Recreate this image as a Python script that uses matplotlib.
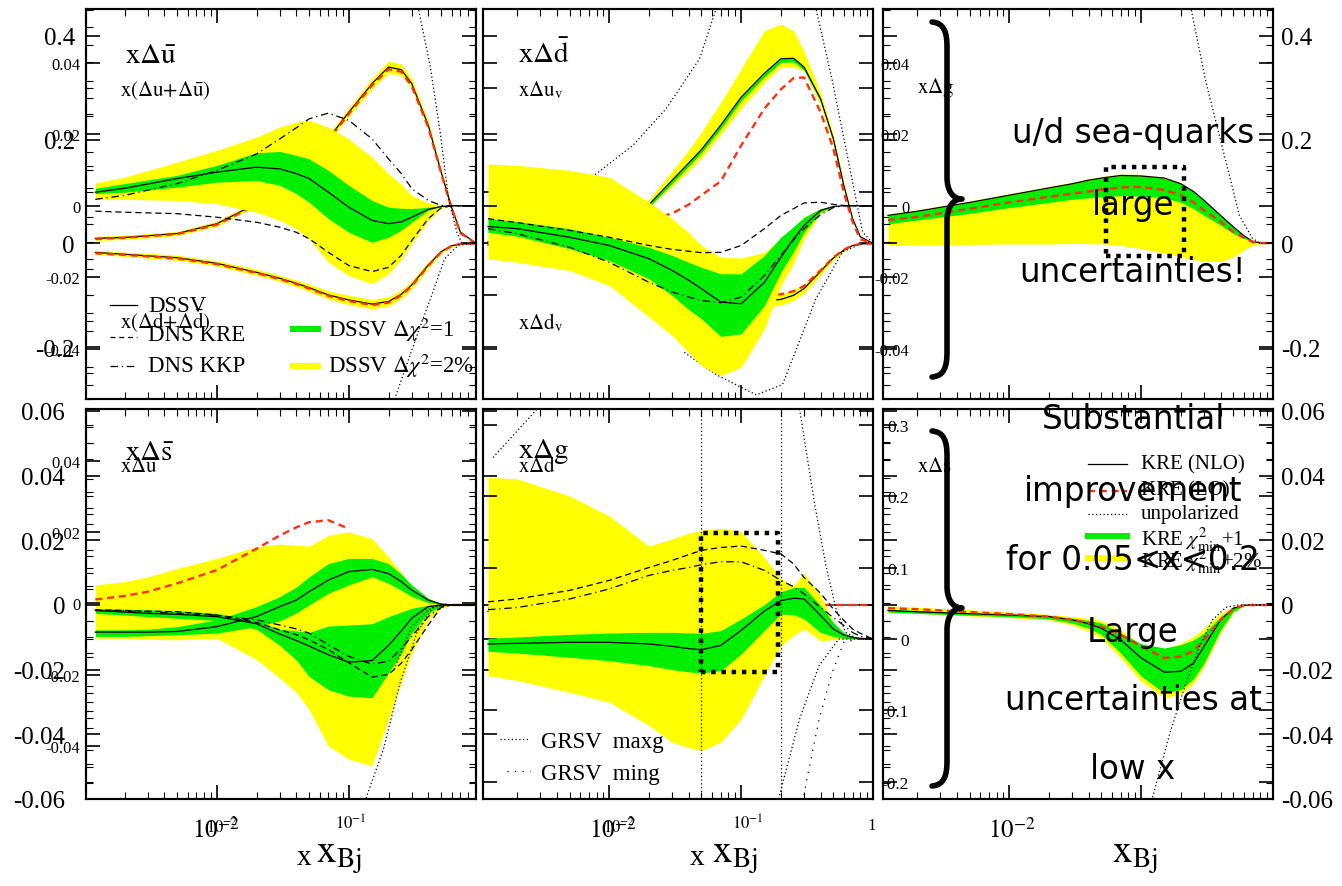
import matplotlib
matplotlib.use('Agg')
import matplotlib.pyplot as plt
import matplotlib.ticker as ticker
from matplotlib.lines import Line2D
from matplotlib.patches import PathPatch
from matplotlib.path import Path
import numpy as np

plt.rcParams['font.family'] = 'Liberation Serif'
plt.rcParams['mathtext.fontset'] = 'stix'
plt.rcParams['axes.unicode_minus'] = False

W, H = 1342, 887
YEL = '#ffff00'
GRN = '#00ee00'
RED = '#ff3010'
nan = float('nan')

# ---------------- top-left (x dU-bar, DSSV; x(Du+Du-bar), x(Dd+Dd-bar), KRE) -------------
x_tl = [0.0012, 0.002, 0.005, 0.01, 0.02, 0.03, 0.04, 0.05, 0.07, 0.1, 0.15, 0.2, 0.25, 0.3, 0.4, 0.5, 0.6, 0.7, 0.92]
ubar_sol = [0.0038, 0.0049, 0.0076, 0.0094, 0.0108, 0.0103, 0.009, 0.0076, 0.0038, -0.0004, -0.0041, -0.005, -0.0045, -0.0032, -0.001, -0.0002, 0.0, 0.0, 0.0]
ubar_y_hi = [0.0064, 0.008, 0.0122, 0.0155, 0.0192, 0.022, 0.0234, 0.0239, 0.022, 0.0187, 0.0136, 0.009, 0.006, 0.0029, 0.0008, 0.0001, 0.0, 0.0, 0.0]
ubar_y_lo = [0.0018, 0.0018, 0.0015, 0.0006, -0.0018, -0.0041, -0.0064, -0.0092, -0.0158, -0.0195, -0.0218, -0.019, -0.015, -0.0106, -0.0041, -0.0008, 0.0, 0.0, 0.0]
ubar_g_hi = [0.0049, 0.0062, 0.0085, 0.0113, 0.0148, 0.0152, 0.0141, 0.0131, 0.0099, 0.0057, 0.0015, -0.0004, -0.0007, -0.0008, -0.0004, -0.0001, 0.0, 0.0, 0.0]
ubar_g_lo = [0.0034, 0.0038, 0.0052, 0.0066, 0.0071, 0.0057, 0.0034, 0.001, -0.0036, -0.0074, -0.0102, -0.0088, -0.0068, -0.0046, -0.0013, -0.0002, 0.0, 0.0, 0.0]
ubar_kre = [-0.0015, -0.0018, -0.0022, -0.0032, -0.0046, -0.006, -0.0074, -0.0092, -0.013, -0.0167, -0.0184, -0.0172, -0.0138, -0.0097, -0.0036, -0.0006, 0.0, 0.0, 0.0]
ubar_kkp = [0.0018, 0.0029, 0.0062, 0.0099, 0.0145, 0.0187, 0.0218, 0.0243, 0.0259, 0.0239, 0.0187, 0.0131, 0.009, 0.0048, 0.0015, 0.0001, 0.0, 0.0, 0.0]
upl_nlo = [0.0096, 0.0115, 0.019, 0.038, 0.077, 0.106, 0.131, 0.157, 0.202, 0.253, 0.308, 0.34, 0.335, 0.308, 0.228, 0.138, 0.07, 0.022, 0.0]
upl_lo = [0.0085, 0.011, 0.018, 0.036, 0.075, 0.104, 0.129, 0.155, 0.2, 0.25, 0.305, 0.336, 0.331, 0.303, 0.224, 0.136, 0.068, 0.02, 0.0]
upl_hw = [0.004, 0.004, 0.004, 0.005, 0.005, 0.006, 0.006, 0.006, 0.007, 0.008, 0.01, 0.012, 0.011, 0.01, 0.008, 0.006, 0.004, 0.002, 0.0]
dpl_nlo = [-0.0173, -0.021, -0.0276, -0.0385, -0.0558, -0.0673, -0.077, -0.0853, -0.0994, -0.109, -0.117, -0.112, -0.098, -0.08, -0.0417, -0.016, -0.0045, -0.001, 0.0]
dpl_lo = [-0.019, -0.022, -0.029, -0.04, -0.057, -0.069, -0.078, -0.087, -0.101, -0.111, -0.119, -0.114, -0.1, -0.082, -0.043, -0.017, -0.005, -0.001, 0.0]
dpl_hw = [0.004, 0.004, 0.005, 0.005, 0.006, 0.006, 0.0065, 0.007, 0.008, 0.009, 0.009, 0.009, 0.0085, 0.008, 0.006, 0.004, 0.002, 0.001, 0.0]
u_unpol_x = [0.3, 0.337, 0.413, 0.492, 0.569, 0.658, 0.72, 0.92]
u_unpol_y = [0.6, 0.452, 0.343, 0.215, 0.087, 0.022, 0.0, 0.0]
d_unpol_x = [0.2, 0.224, 0.344, 0.435, 0.533, 0.68, 0.92]
d_unpol_y = [-0.35, -0.298, -0.163, -0.093, -0.029, -0.003, 0.0]

# ---------------- top-middle (x dD-bar DSSV; x du_v, x dd_v KRE) ----------------
x_tm = [0.0012, 0.002, 0.005, 0.01, 0.02, 0.03, 0.04, 0.05, 0.07, 0.1, 0.15, 0.2, 0.25, 0.3, 0.4, 0.5, 0.6, 0.7, 0.8, 1.0]
dbar_sol = [-0.0058, -0.0064, -0.0088, -0.0111, -0.0148, -0.0181, -0.0208, -0.0232, -0.0269, -0.0274, -0.0214, -0.0144, -0.0092, -0.0055, -0.0013, -0.0002, 0.0, 0.0, 0.0, 0.0]
dbar_g_hi = [-0.0036, -0.0044, -0.0064, -0.0088, -0.0116, -0.0139, -0.0158, -0.0172, -0.019, -0.019, -0.0139, -0.0088, -0.0058, -0.0032, -0.0008, -0.0001, 0.0, 0.0, 0.0, 0.0]
dbar_g_lo = [-0.0074, -0.0085, -0.012, -0.0153, -0.0204, -0.0251, -0.029, -0.0316, -0.0365, -0.0358, -0.0279, -0.0186, -0.0128, -0.0074, -0.0018, -0.0001, 0.0, 0.0, 0.0, 0.0]
dbar_y_hi = [0.0117, 0.0113, 0.0099, 0.008, 0.001, -0.0036, -0.0075, -0.0111, -0.0144, -0.0146, -0.013, -0.0092, -0.006, -0.0032, -0.0008, -0.0001, 0.0, 0.0, 0.0, 0.0]
dbar_y_lo = [-0.0148, -0.0158, -0.0181, -0.0223, -0.0311, -0.0363, -0.041, -0.0447, -0.0475, -0.0451, -0.0344, -0.0223, -0.016, -0.0092, -0.0022, -0.0001, 0.0, 0.0, 0.0, 0.0]
dbar_kre = [-0.0036, -0.0047, -0.0069, -0.0088, -0.0111, -0.0122, -0.0127, -0.0131, -0.013, -0.0111, -0.0064, -0.0027, -0.0008, 0.0008, 0.001, 0.0004, 0.0001, 0.0, 0.0, 0.0]
dbar_kkp = [-0.0064, -0.0078, -0.0116, -0.0158, -0.0214, -0.0241, -0.0255, -0.0265, -0.0271, -0.0255, -0.0195, -0.0139, -0.0095, -0.0064, -0.0025, -0.0005, 0.0, 0.0, 0.0, 0.0]
uv_nlo = [0.003, 0.008, 0.025, 0.045, 0.075, 0.122, 0.155, 0.181, 0.228, 0.282, 0.328, 0.356, 0.357, 0.34, 0.279, 0.202, 0.112, 0.048, 0.013, 0.0]
uv_lo = [0.002, 0.006, 0.017, 0.03, 0.045, 0.058, 0.075, 0.093, 0.12, 0.189, 0.26, 0.297, 0.319, 0.32, 0.253, 0.183, 0.099, 0.042, 0.008, 0.0]
uv_y_hi = [0.005, 0.011, 0.03, 0.052, 0.085, 0.14, 0.18, 0.215, 0.272, 0.337, 0.41, 0.423, 0.41, 0.37, 0.29, 0.21, 0.12, 0.05, 0.014, 0.0]
uv_y_lo = [0.002, 0.006, 0.02, 0.04, 0.07, 0.11, 0.14, 0.165, 0.21, 0.26, 0.31, 0.34, 0.34, 0.333, 0.266, 0.19, 0.106, 0.045, 0.012, 0.0]
uv_g_lo = [0.002, 0.006, 0.022, 0.041, 0.07, 0.116, 0.149, 0.175, 0.221, 0.275, 0.321, 0.349, 0.35, 0.334, 0.274, 0.198, 0.109, 0.046, 0.012, 0.0]
dv_nlo = [-0.003, -0.006, -0.016, -0.035, -0.06, -0.075, -0.085, -0.093, -0.102, -0.108, -0.111, -0.108, -0.1, -0.087, -0.054, -0.028, -0.013, -0.004, -0.001, 0.0]
dv_lo = [-0.002, -0.005, -0.014, -0.03, -0.053, -0.067, -0.077, -0.085, -0.093, -0.098, -0.1, -0.098, -0.092, -0.082, -0.052, -0.027, -0.012, -0.004, -0.001, 0.0]
dv_y_hi = [-0.001, -0.003, -0.012, -0.029, -0.052, -0.066, -0.075, -0.083, -0.091, -0.096, -0.099, -0.097, -0.089, -0.078, -0.047, -0.024, -0.011, -0.003, -0.001, 0.0]
dv_y_lo = [-0.005, -0.009, -0.02, -0.041, -0.068, -0.084, -0.094, -0.103, -0.113, -0.12, -0.123, -0.119, -0.11, -0.096, -0.061, -0.032, -0.015, -0.005, -0.001, 0.0]
uv_unpol_x1 = [0.005, 0.008, 0.0151, 0.027, 0.0483, 0.0645, 0.08]
uv_unpol_y1 = [0.09, 0.135, 0.189, 0.26, 0.356, 0.452, 0.55]
uv_unpol_x2 = [0.3, 0.37, 0.494, 0.66, 0.834, 1.0]
uv_unpol_y2 = [0.6, 0.452, 0.311, 0.151, 0.022, 0.0]
dv_unpol_x = [0.037, 0.0645, 0.13, 0.206, 0.37, 0.589, 0.834, 1.0]
dv_unpol_y = [-0.21, -0.253, -0.292, -0.272, -0.106, -0.016, 0.0, 0.0]

# ---------------- top-right (x dg, KRE) ----------------
x_tr = x_tm
g_nlo = [0.054, 0.062, 0.079, 0.093, 0.107, 0.115, 0.122, 0.126, 0.131, 0.13, 0.126, 0.115, 0.1, 0.083, 0.054, 0.032, 0.015, 0.004, 0.001, 0.0]
g_lo = [0.045, 0.051, 0.067, 0.079, 0.09, 0.096, 0.1, 0.104, 0.108, 0.109, 0.103, 0.093, 0.079, 0.064, 0.042, 0.022, 0.011, 0.003, 0.001, 0.0]
g_g_lo = [0.038, 0.045, 0.058, 0.069, 0.079, 0.085, 0.088, 0.09, 0.092, 0.091, 0.088, 0.079, 0.067, 0.054, 0.035, 0.019, 0.01, 0.003, 0.001, 0.0]
g_y_hi = [0.057, 0.065, 0.082, 0.096, 0.11, 0.118, 0.125, 0.129, 0.134, 0.133, 0.128, 0.117, 0.101, 0.084, 0.055, 0.033, 0.016, 0.004, 0.001, 0.0]
g_y_lo = [-0.003, -0.003, -0.002, -0.001, -0.001, 0.0, -0.0005, -0.001, -0.004, -0.01, -0.019, -0.026, -0.031, -0.034, -0.035, -0.026, -0.013, -0.004, -0.001, 0.0]
g_unpol_x = [0.2, 0.239, 0.31, 0.415, 0.556, 0.697, 0.8, 1.0]
g_unpol_y = [0.6, 0.452, 0.311, 0.183, 0.054, 0.01, 0.0, 0.0]

# ---------------- bottom-left (x dS-bar DSSV; x du-bar KRE) ----------------
x_bl = [0.0012, 0.002, 0.003, 0.005, 0.01, 0.02, 0.03, 0.04, 0.05, 0.07, 0.1, 0.15, 0.2, 0.25, 0.3, 0.4, 0.5, 0.6, 0.7, 0.92]
sbar_y_hi = [0.0062, 0.0072, 0.0087, 0.0113, 0.0144, 0.018, 0.0188, 0.0185, 0.0182, 0.0215, 0.0226, 0.0205, 0.0149, 0.01, 0.0056, 0.0015, 0.0003, 0.0, 0.0, 0.0]
sbar_y_lo = [-0.0103, -0.0103, -0.0106, -0.0108, -0.0103, -0.0169, -0.0226, -0.027, -0.0323, -0.0436, -0.0477, -0.0497, -0.0354, -0.024, -0.0149, -0.0046, -0.001, 0.0, 0.0, 0.0]
sbar_g_hi = [-0.0077, -0.0077, -0.0075, -0.0067, -0.0046, -0.0005, 0.0026, 0.0055, 0.0087, 0.0128, 0.0144, 0.0144, 0.0128, 0.0095, 0.0062, 0.0021, 0.0003, 0.0, 0.0, 0.0]
sbar_g_lo = [-0.0097, -0.0097, -0.0095, -0.0092, -0.0087, -0.0067, -0.0049, -0.0025, 0.0, 0.0036, 0.0062, 0.0087, 0.0067, 0.0045, 0.0026, 0.0007, 0.0001, 0.0, 0.0, 0.0]
sbar_sol = [-0.0084, -0.0084, -0.0084, -0.0082, -0.0067, -0.0036, -0.0005, 0.0015, 0.0041, 0.0077, 0.0103, 0.011, 0.0097, 0.0072, 0.0046, 0.0015, 0.0003, 0.0, 0.0, 0.0]
sbar_kre = [-0.0015, -0.0017, -0.0019, -0.0021, -0.0031, -0.0054, -0.0077, -0.0092, -0.0108, -0.0138, -0.0179, -0.0223, -0.0215, -0.018, -0.0138, -0.0062, -0.0007, 0.0, 0.0, 0.0]
sbar_kkp = [-0.0017, -0.0019, -0.0021, -0.0026, -0.0032, -0.0046, -0.0062, -0.0074, -0.0087, -0.0123, -0.0159, -0.0183, -0.0174, -0.0135, -0.0097, -0.0036, -0.0007, 0.0, 0.0, 0.0]
ubk_nlo = [-0.0017, -0.0022, -0.0026, -0.0029, -0.0036, -0.0058, -0.009, -0.011, -0.0127, -0.0154, -0.0177, -0.0172, -0.0125, -0.008, -0.0041, -0.0005, 0.0, 0.0, 0.0, 0.0]
ubk_g_hi = [-0.0011, -0.0013, -0.0015, -0.0018, -0.0026, -0.005, -0.0075, -0.008, -0.0085, -0.0065, -0.0062, -0.0058, -0.0036, -0.0022, -0.001, -0.0001, 0.0, 0.0, 0.0, 0.0]
ubk_g_lo = [-0.0026, -0.0031, -0.0036, -0.0041, -0.0048, -0.0075, -0.0125, -0.017, -0.0221, -0.0262, -0.0282, -0.0287, -0.021, -0.015, -0.0087, -0.0026, -0.0003, 0.0, 0.0, 0.0]
ubk_lo = [0.0017, 0.0028, 0.0041, 0.0067, 0.0108, 0.0174, 0.0215, 0.024, 0.0256, 0.0262, 0.0236, nan, nan, nan, nan, nan, 0.0, 0.0, 0.0, 0.0]
ubk_unpol_x = [0.12, 0.137, 0.183, 0.245, 0.327, 0.437, 0.55, 0.92]
ubk_unpol_y = [-0.07, -0.059, -0.0446, -0.024, -0.0087, -0.0005, 0.0, 0.0]
ubk_unpol2_x = [0.22, 0.3, 0.4, 0.5, 0.7]
ubk_unpol2_y = [-0.02, -0.0067, -0.0015, 0.0, 0.0]

# ---------------- bottom-middle (x dg DSSV; x dd-bar KRE) ----------------
x_bm = x_tm
gd_sol = [-0.007, -0.0061, -0.0047, -0.0047, -0.007, -0.0103, -0.0135, -0.015, -0.009, 0.012, 0.039, 0.0536, 0.057, 0.056, 0.033, 0.014, 0.0056, 0.0023, 0.001, 0.0]
gd_g_hi = [0.0009, 0.0028, 0.0065, 0.0084, 0.0093, 0.0093, 0.0085, 0.0079, 0.0117, 0.028, 0.048, 0.066, 0.072, 0.072, 0.047, 0.023, 0.009, 0.004, 0.001, 0.0]
gd_g_lo = [-0.0172, -0.0196, -0.0256, -0.0303, -0.0373, -0.0429, -0.046, -0.0476, -0.0443, -0.021, 0.012, 0.035, 0.034, 0.028, 0.0093, 0.0037, 0.001, 0.0, 0.0, 0.0]
gd_y_hi = [0.226, 0.224, 0.2, 0.172, 0.13, 0.14, 0.148, 0.152, 0.155, 0.15, 0.114, 0.084, 0.075, 0.092, 0.061, 0.023, 0.007, 0.002, 0.001, 0.0]
gd_y_lo = [-0.0513, -0.058, -0.0746, -0.0886, -0.121, -0.1445, -0.152, -0.156, -0.1445, -0.112, -0.0513, -0.0093, 0.005, 0.014, -0.0023, -0.001, 0.0, 0.0, 0.0, 0.0]
gd_kre = [0.052, 0.056, 0.068, 0.082, 0.1, 0.11, 0.118, 0.124, 0.128, 0.13, 0.124, 0.119, 0.105, 0.086, 0.064, 0.042, 0.026, 0.014, 0.008, 0.0]
gd_kkp = [0.041, 0.044, 0.056, 0.07, 0.089, 0.096, 0.1, 0.104, 0.108, 0.108, 0.096, 0.082, 0.073, 0.063, 0.044, 0.03, 0.019, 0.009, 0.004, 0.0]
grsv_max_x = [0.25, 0.277, 0.359, 0.44, 0.524, 0.62, 0.77, 1.0]
grsv_max_y = [0.4, 0.322, 0.191, 0.102, 0.042, 0.0093, 0.0, 0.0]
grsv_min_x = [0.28, 0.302, 0.39, 0.49, 0.6, 0.78, 1.0]
grsv_min_y = [-0.26, -0.213, -0.112, -0.047, -0.0047, 0.0, 0.0]
unpol3_x = [0.18, 0.195, 0.277, 0.39, 0.55, 1.0]
unpol3_y = [-0.26, -0.219, -0.112, -0.0373, 0.0, 0.0]
dbk_nlo = [-0.002, -0.002, -0.003, -0.004, -0.005, -0.006, -0.007, -0.008, -0.01, -0.012, -0.013, -0.007, -0.004, -0.001, 0.0, 0.0, 0.0, 0.0, 0.0, 0.0]
dbk_lo = [-0.001, -0.002, -0.003, -0.004, -0.005, -0.006, -0.007, -0.008, -0.01, -0.011, -0.012, -0.006, -0.003, -0.001, 0.0, 0.0, 0.0, 0.0, 0.0, 0.0]
dbk_unpol_x = [0.00131, 0.0032]
dbk_unpol_y = [0.0456, 0.063]

# ---------------- bottom-right (x ds KRE) ----------------
x_br = x_tm
s_nlo = [-0.0017, -0.0021, -0.0027, -0.0031, -0.0036, -0.0046, -0.0058, -0.0072, -0.0108, -0.0164, -0.0208, -0.0205, -0.018, -0.0128, -0.0046, -0.001, -0.0001, 0.0, 0.0, 0.0]
s_lo = [-0.001, -0.0013, -0.0022, -0.0028, -0.0036, -0.0046, -0.0055, -0.0067, -0.0092, -0.0128, -0.0164, -0.0159, -0.0142, -0.0108, -0.0046, -0.0012, -0.0001, 0.0, 0.0, 0.0]
s_g_hi = [-0.0013, -0.0017, -0.0024, -0.0028, -0.0034, -0.0041, -0.0048, -0.0056, -0.0087, -0.012, -0.0133, -0.0123, -0.0108, -0.0087, -0.0036, -0.0007, -0.0001, 0.0, 0.0, 0.0]
s_g_lo = [-0.0022, -0.0026, -0.0032, -0.0036, -0.0043, -0.0056, -0.0072, -0.0092, -0.0149, -0.022, -0.0272, -0.0262, -0.0228, -0.018, -0.0077, -0.002, -0.0003, 0.0, 0.0, 0.0]
s_y_hi = [-0.0003, -0.0007, -0.0015, -0.0022, -0.0029, -0.0036, -0.0042, -0.0048, -0.0077, -0.0123, -0.0136, -0.0118, -0.0098, -0.0072, -0.0026, -0.0005, 0.0, 0.0, 0.0, 0.0]
s_y_lo = [-0.0024, -0.0026, -0.0034, -0.0039, -0.0046, -0.0062, -0.0082, -0.0103, -0.0164, -0.0236, -0.0287, -0.0277, -0.0242, -0.019, -0.0087, -0.0024, -0.0003, 0.0, 0.0, 0.0]
s_unpol_x = [0.11, 0.122, 0.164, 0.219, 0.277, 0.348, 0.44, 0.55, 1.0]
s_unpol_y = [-0.065, -0.0595, -0.04, -0.0241, -0.0128, -0.0046, -0.0007, 0.0, 0.0]

# highlighted x-range boxes
box_tr_x = [0.054, 0.21]
box_tr_y = [-0.025, 0.148]
box_bm_x = [0.05, 0.19]
box_bm_y = [-0.0466, 0.148]
vlines_bm = [0.05, 0.2]

# axis tick labels
big_top_ticks = [-0.2, 0.0, 0.2, 0.4]
big_top_labels = ['-0.2', '0', '0.2', '0.4']
small_ticks = [-0.04, -0.02, 0.0, 0.02, 0.04]
small_labels = ['-0.04', '-0.02', '0', '0.02', '0.04']
big_bot_ticks = [-0.06, -0.04, -0.02, 0.0, 0.02, 0.04, 0.06]
big_bot_labels = ['-0.06', '-0.04', '-0.02', '0', '0.02', '0.04', '0.06']
g_ticks = [-0.2, -0.1, 0.0, 0.1, 0.2, 0.3]
g_labels = ['-0.2', '-0.1', '0', '0.1', '0.2', '0.3']

fig = plt.figure(figsize=(W / 100, H / 100), dpi=100)


def fx(px):
    return px / W


def fy(py):
    return 1 - py / H


def panel(left, top, xlim, ylim, ylim2):
    ax = fig.add_axes([fx(left), fy(top + 390), 390 / W, 390 / H])
    ax2 = ax.twinx()
    ax.set_xscale('log')
    ax.set_xlim(xlim)
    ax.set_ylim(ylim)
    ax2.set_ylim(ylim2)
    ax.xaxis.set_major_locator(ticker.LogLocator(base=10, numticks=10))
    ax.xaxis.set_minor_locator(ticker.LogLocator(base=10, subs=np.arange(2, 10), numticks=10))
    ax.xaxis.set_major_formatter(ticker.NullFormatter())
    ax.xaxis.set_minor_formatter(ticker.NullFormatter())
    ax.tick_params(axis='x', which='both', direction='in', top=True, bottom=True)
    ax.tick_params(axis='x', which='major', length=10, width=1.2)
    ax.tick_params(axis='x', which='minor', length=5, width=0.8)
    for a in (ax, ax2):
        a.tick_params(axis='y', which='both', direction='in', left=True, right=True,
                      labelleft=False, labelright=False)
        a.tick_params(axis='y', which='major', length=10, width=1.2)
        a.tick_params(axis='y', which='minor', length=5, width=0.8)
        for s in a.spines.values():
            s.set_linewidth(1.5)
    return ax, ax2


def solid(a, x, y, z=4):
    a.plot(x, y, color='black', lw=0.9, zorder=z)


def reddash(a, x, y, z=4):
    a.plot(x, y, color=RED, lw=1.7, dashes=(3, 2), zorder=z)


def dashed(a, x, y, z=4):
    a.plot(x, y, color='black', lw=0.9, dashes=(5, 3), zorder=z)


def dashdot(a, x, y, z=4):
    a.plot(x, y, color='black', lw=0.9, dashes=(6, 3, 1, 3), zorder=z)


def dotted(a, x, y, z=4, gap=2):
    a.plot(x, y, color='black', lw=0.9, dashes=(1, gap), zorder=z)


def band(a, x, lo, hi, color, z=1):
    a.fill_between(x, lo, hi, color=color, lw=0, zorder=z)


def ylabels(a, ticks, labels, side, size, pad, minor):
    a.set_yticks(ticks)
    a.set_yticklabels(labels)
    a.yaxis.set_minor_locator(ticker.MultipleLocator(minor))
    if side == 'left':
        a.tick_params(axis='y', labelleft=True, labelsize=size, pad=pad)
    else:
        a.tick_params(axis='y', labelright=True, labelsize=size, pad=pad)


# ---- top-left ----
ax, ax2 = panel(86, 10, (1.02e-3, 0.92), (-0.3, 0.452), (-0.054, 0.055))
ylabels(ax, big_top_ticks, big_top_labels, 'left', 18, 8, 0.05)
ylabels(ax2, small_ticks, small_labels, 'left', 12, 4, 0.005)
upl_hw_a = np.array(upl_hw)
dpl_hw_a = np.array(dpl_hw)
band(ax, x_tl, np.array(upl_nlo) - upl_hw_a, np.array(upl_nlo) + upl_hw_a, YEL)
band(ax, x_tl, np.array(dpl_nlo) - dpl_hw_a, np.array(dpl_nlo) + dpl_hw_a, YEL)
solid(ax, x_tl, upl_nlo)
reddash(ax, x_tl, upl_lo)
solid(ax, x_tl, dpl_nlo)
reddash(ax, x_tl, dpl_lo)
dotted(ax, u_unpol_x, u_unpol_y)
dotted(ax, d_unpol_x, d_unpol_y)
band(ax2, x_tl, ubar_y_lo, ubar_y_hi, YEL, 1)
band(ax2, x_tl, ubar_g_lo, ubar_g_hi, GRN, 2)
solid(ax2, x_tl, ubar_sol)
dashed(ax2, x_tl, ubar_kre)
dashdot(ax2, x_tl, ubar_kkp)

# ---- top-middle ----
ax, ax2 = panel(483, 10, (1.1e-3, 1.0), (-0.3, 0.452), (-0.054, 0.055))
band(ax, x_tm, uv_y_lo, uv_y_hi, YEL)
band(ax, x_tm, uv_g_lo, uv_nlo, GRN, 2)
band(ax, x_tm, dv_y_lo, dv_y_hi, YEL)
solid(ax, x_tm, uv_nlo)
reddash(ax, x_tm, uv_lo)
solid(ax, x_tm, dv_nlo)
reddash(ax, x_tm, dv_lo)
dotted(ax, uv_unpol_x1, uv_unpol_y1)
dotted(ax, uv_unpol_x2, uv_unpol_y2)
dotted(ax, dv_unpol_x, dv_unpol_y)
band(ax2, x_tm, dbar_y_lo, dbar_y_hi, YEL, 1)
band(ax2, x_tm, dbar_g_lo, dbar_g_hi, GRN, 2)
solid(ax2, x_tm, dbar_sol)
dashed(ax2, x_tm, dbar_kre)
dashdot(ax2, x_tm, dbar_kkp)

# ---- top-right ----
ax, ax2 = panel(883, 10, (1.1e-3, 1.0), (-0.3, 0.452), (-0.054, 0.055))
ylabels(ax, big_top_ticks, big_top_labels, 'right', 18, 6, 0.05)
ylabels(ax2, small_ticks, small_labels, 'left', 12, -19, 0.005)
band(ax, x_tr, g_y_lo, g_y_hi, YEL)
band(ax, x_tr, g_g_lo, g_nlo, GRN, 2)
solid(ax, x_tr, g_nlo)
reddash(ax, x_tr, g_lo)
dotted(ax, g_unpol_x, g_unpol_y)
ax.plot([box_tr_x[0], box_tr_x[1], box_tr_x[1], box_tr_x[0], box_tr_x[0]],
        [box_tr_y[0], box_tr_y[0], box_tr_y[1], box_tr_y[1], box_tr_y[0]],
        color='black', lw=3.2, dashes=(1, 1.3), zorder=6)

# ---- bottom-left ----
ax, ax2 = panel(86, 410, (1.02e-3, 0.92), (-0.06, 0.0606), (-0.0548, 0.0545))
ylabels(ax, big_bot_ticks, big_bot_labels, 'left', 18, 15, 0.005)
ylabels(ax2, small_ticks, small_labels, 'left', 12, 4, 0.005)
band(ax, x_bl, sbar_y_lo, sbar_y_hi, YEL, 1)
band(ax, x_bl, ubk_g_lo, ubk_g_hi, GRN, 2)
band(ax, x_bl, sbar_g_lo, sbar_g_hi, GRN, 2.5)
reddash(ax, x_bl, ubk_lo)
solid(ax, x_bl, ubk_nlo)
solid(ax, x_bl, sbar_sol)
dashed(ax, x_bl, sbar_kre)
dashdot(ax, x_bl, sbar_kkp)
dotted(ax, ubk_unpol_x, ubk_unpol_y)
dotted(ax, ubk_unpol2_x, ubk_unpol2_y)

# ---- bottom-middle ----
ax, ax2 = panel(483, 410, (1.1e-3, 1.0), (-0.06, 0.0606), (-0.2238, 0.3217))
solid(ax, x_bm, dbk_nlo)
reddash(ax, x_bm, dbk_lo)
dotted(ax, dbk_unpol_x, dbk_unpol_y)
band(ax2, x_bm, gd_y_lo, gd_y_hi, YEL, 1)
band(ax2, x_bm, gd_g_lo, gd_g_hi, GRN, 2)
solid(ax2, x_bm, gd_sol)
dashed(ax2, x_bm, gd_kre)
dashdot(ax2, x_bm, gd_kkp)
dotted(ax2, grsv_max_x, grsv_max_y)
dotted(ax2, grsv_min_x, grsv_min_y, gap=5)
dotted(ax2, unpol3_x, unpol3_y)
for v in vlines_bm:
    ax2.axvline(v, color='black', lw=0.9, dashes=(1, 2), zorder=5)
ax2.plot([box_bm_x[0], box_bm_x[1], box_bm_x[1], box_bm_x[0], box_bm_x[0]],
         [box_bm_y[0], box_bm_y[0], box_bm_y[1], box_bm_y[1], box_bm_y[0]],
         color='black', lw=3.2, dashes=(1, 1.3), zorder=6)

# ---- bottom-right ----
ax, ax2 = panel(883, 410, (1.1e-3, 1.0), (-0.06, 0.0606), (-0.2238, 0.3217))
ylabels(ax, big_bot_ticks, big_bot_labels, 'right', 18, 6, 0.005)
ylabels(ax2, g_ticks, g_labels, 'left', 12.5, -18.5, 0.025)
band(ax, x_br, s_y_lo, s_y_hi, YEL, 1)
band(ax, x_br, s_g_lo, s_g_hi, GRN, 2)
solid(ax, x_br, s_nlo)
reddash(ax, x_br, s_lo)
dotted(ax, s_unpol_x, s_unpol_y)


# ---------------- figure-level texts / legends ----------------
def ftext(x, y, s, size, **kw):
    kw.setdefault('va', 'baseline')
    kw.setdefault('ha', 'left')
    fig.text(fx(x), fy(y), s, fontsize=size, **kw)


def fline(x0, x1, y, **kw):
    fig.add_artist(Line2D([fx(x0), fx(x1)], [fy(y), fy(y)], transform=fig.transFigure, **kw))


# panel names
ftext(125, 63, r'$\mathrm{x}\Delta\bar{\mathrm{u}}$', 21)
ftext(120, 96, r'$\mathrm{x(}\Delta\mathrm{u{+}}\Delta\bar{\mathrm{u}}\mathrm{)}$', 15)
ftext(120, 329, r'$\mathrm{x(}\Delta\mathrm{d{+}}\Delta\bar{\mathrm{d}}\mathrm{)}$', 15)
ftext(518, 63, r'$\mathrm{x}\Delta\bar{\mathrm{d}}$', 21)
ftext(518, 96, r'$\mathrm{x}\Delta\mathrm{u}_\mathrm{v}$', 15)
ftext(518, 329, r'$\mathrm{x}\Delta\mathrm{d}_\mathrm{v}$', 15)
ftext(917, 93, r'$\mathrm{x}\Delta\mathrm{g}$', 15)
ftext(125, 460, r'$\mathrm{x}\Delta\bar{\mathrm{s}}$', 21)
ftext(120, 472, r'$\mathrm{x}\Delta\mathrm{u}$', 15)
ftext(518, 458, r'$\mathrm{x}\Delta\mathrm{g}$', 21)
ftext(518, 472, r'$\mathrm{x}\Delta\mathrm{d}$', 15)
ftext(917, 472, r'$\mathrm{x}\Delta\mathrm{s}$', 15)

# DSSV legend (top-left)
fline(110, 137, 306, color='black', lw=0.9)
ftext(148, 306, 'DSSV', 16.5, va='center')
fline(110, 137, 338, color='black', lw=0.9, dashes=(4, 3))
ftext(148, 336, 'DNS KRE', 16.5, va='center')
fline(110, 137, 367, color='black', lw=0.9, dashes=(6, 3, 1, 3))
ftext(148, 366, 'DNS KKP', 16.5, va='center')
fline(293, 318, 330, color=GRN, lw=4.3)
ftext(328, 330, r'DSSV $\Delta\chi^2$=1', 16.5, va='center')
fline(293, 318, 367, color=YEL, lw=4.3)
ftext(328, 366, r'DSSV $\Delta\chi^2$=2%', 16.5, va='center')

# GRSV legend (bottom-middle)
fline(500, 530, 740, color='black', lw=0.9, dashes=(1, 2))
ftext(541, 743, 'GRSV  maxg', 16.5, va='center')
fline(507, 530, 772, color='black', lw=0.9, dashes=(1, 5))
ftext(541, 775, 'GRSV  ming', 16.5, va='center')

# KRE legend (bottom-right)
fline(1088, 1127, 465, color='black', lw=0.9)
ftext(1141, 465, 'KRE (NLO)', 15, va='center')
fline(1088, 1127, 492, color=RED, lw=1.7, dashes=(3, 2))
ftext(1141, 491, 'KRE (LO)', 15, va='center')
fline(1088, 1127, 515, color='black', lw=0.9, dashes=(1, 2))
ftext(1141, 515, 'unpolarized', 15, va='center')
fline(1088, 1127, 537, color=GRN, lw=4.3)
ftext(1141, 540, r'KRE $\chi^2_{\mathrm{min}}$+1', 15, va='center')
fline(1088, 1127, 559, color=YEL, lw=4.3)
ftext(1141, 562, r'KRE $\chi^2_{\mathrm{min}}$+2%', 15, va='center')

# x tick labels
for off in (0, 397):
    ftext(216 + off, 838, r'$10^{-2}$', 18, ha='center')
    ftext(222 + off, 832, r'$10^{-2}$', 12, ha='center')
    ftext(351 + off, 830, r'$10^{-1}$', 12, ha='center')
ftext(872, 830, '1', 12, ha='center')
ftext(1012, 838, r'$10^{-2}$', 18, ha='center')

# x axis titles
ftext(297, 865, 'x', 21)
ftext(316, 863, r'$\mathrm{x}_{\mathrm{Bj}}$', 28)
ftext(690, 865, 'x', 21)
ftext(712, 863, r'$\mathrm{x}_{\mathrm{Bj}}$', 28)
ftext(1112, 863, r'$\mathrm{x}_{\mathrm{Bj}}$', 28)


# curly braces
def brace(ytop, ymid, ybot):
    xl, xs, xp = 932, 947, 962
    pts = [(xl, ytop), (944, ytop + 1), (xs, ytop + 10), (xs, ytop + 25),
           (xs, ymid - 22),
           (xs, ymid - 8), (953, ymid), (xp, ymid),
           (953, ymid), (xs, ymid + 8), (xs, ymid + 22),
           (xs, ybot - 25),
           (xs, ybot - 10), (944, ybot - 1), (xl, ybot)]
    codes = [Path.MOVETO, Path.CURVE4, Path.CURVE4, Path.CURVE4, Path.LINETO,
             Path.CURVE4, Path.CURVE4, Path.CURVE4, Path.CURVE4, Path.CURVE4, Path.CURVE4,
             Path.LINETO, Path.CURVE4, Path.CURVE4, Path.CURVE4]
    verts = [(fx(a), fy(b)) for a, b in pts]
    fig.add_artist(PathPatch(Path(verts, codes), fill=False, lw=4, edgecolor='black',
                             capstyle='round', joinstyle='round',
                             transform=fig.transFigure, zorder=8))


brace(23, 200, 378)
brace(432, 609, 787)

# comments in the overlay
note_font = dict(family='DejaVu Sans', ha='center', va='center', zorder=9)
ftext(1133, 133, 'u/d sea-quarks', 23.5, **note_font)
ftext(1133, 205, 'large', 23.5, **note_font)
ftext(1133, 273, 'uncertainties!', 23.5, **note_font)
ftext(1133, 420, 'Substantial', 23.5, **note_font)
ftext(1133, 492, 'improvement', 23.5, **note_font)
ftext(1133, 560, 'for 0.05<x<0.2', 23.5, **note_font)
ftext(1133, 633, 'Large', 23.5, **note_font)
ftext(1133, 700, 'uncertainties at', 23.5, **note_font)
ftext(1133, 770, 'low x', 23.5, **note_font)

plt.savefig('out.png', dpi=100)
